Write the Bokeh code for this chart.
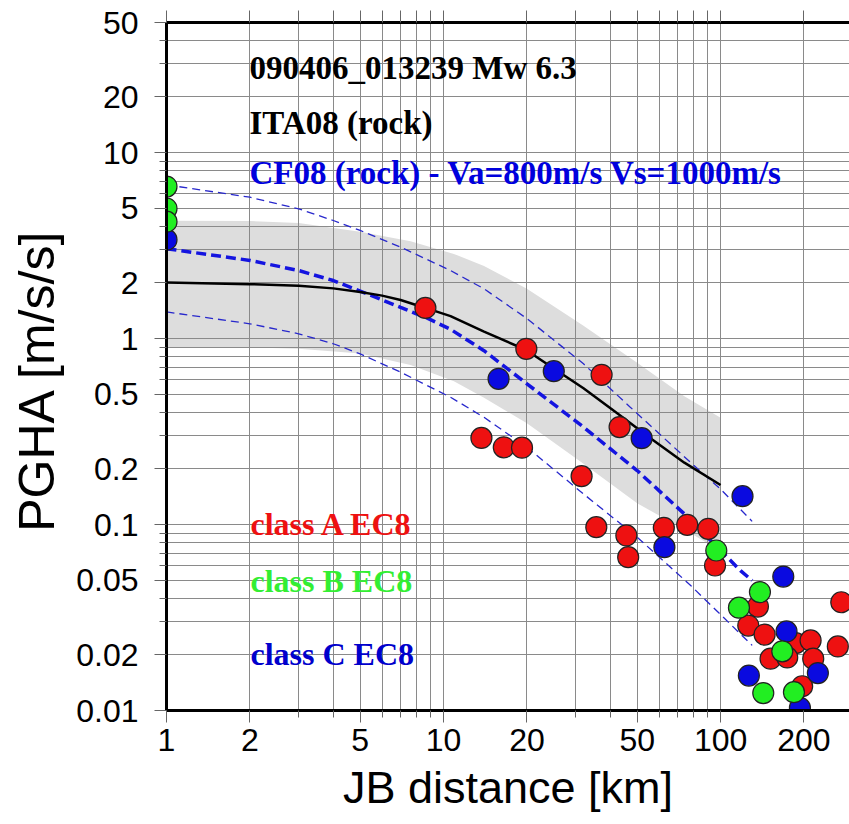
from bokeh.plotting import figure
from bokeh.models import FixedTicker, LogAxis, Label, Range1d
from bokeh.embed import file_html
from bokeh.resources import INLINE

# ---------------- data ----------------
x_major = [1, 2, 5, 10, 20, 50, 100, 200]
x_minor = [3, 4, 6, 7, 8, 9, 30, 40, 60, 70, 80, 90, 300]
y_major = [0.01, 0.02, 0.05, 0.1, 0.2, 0.5, 1, 2, 5, 10, 20, 50]
y_minor = [0.03, 0.04, 0.06, 0.07, 0.08, 0.09, 0.3, 0.4, 0.6, 0.7, 0.8, 0.9,
           3, 4, 6, 7, 8, 9, 30, 40]
x_labels = ["1", "2", "5", "10", "20", "50", "100", "200"]
y_labels = ["0.01", "0.02", "0.05", "0.1", "0.2", "0.5", "1", "2", "5", "10", "20", "50"]

# ITA08 median and +/- sigma band
ita_x = [1, 2, 3, 4, 5, 6, 7, 8.6, 10.6, 14, 19.8, 25, 32, 42, 56, 74, 100]
ita_y = [2.0, 1.96, 1.92, 1.86, 1.78, 1.70, 1.61, 1.46, 1.32, 1.09, 0.87, 0.69,
         0.54, 0.40, 0.29, 0.215, 0.163]
band_x = [1, 2, 3, 5, 7.6, 10.9, 14, 20, 32, 50, 74, 100]
band_hi = [4.3, 4.28, 4.18, 3.75, 3.33, 2.85, 2.45, 1.85, 1.17, 0.74, 0.49, 0.375]
band_lo = [0.9, 0.895, 0.88, 0.83, 0.72, 0.59, 0.48, 0.35, 0.212, 0.13, 0.094, 0.072]

# CF08 median and +/- sigma
cf_x = [1, 2, 3, 4, 5, 7, 8.7, 10.6, 14, 20, 32, 50, 74, 118, 130]
cf_y = [3.04, 2.63, 2.32, 2.05, 1.80, 1.47, 1.29, 1.12, 0.86, 0.571, 0.334,
        0.195, 0.114, 0.0565, 0.050]
cf_hi_x = [1, 2, 3, 4, 5, 7, 10.6, 14, 20, 32, 47, 80, 100, 130]
cf_hi_y = [6.7, 5.75, 4.98, 4.31, 3.81, 3.10, 2.32, 1.85, 1.28, 0.731, 0.43,
           0.208, 0.155, 0.104]
cf_lo_x = [1, 2, 3, 4, 5, 7, 10.6, 14, 20, 32, 50, 78, 130]
cf_lo_y = [1.39, 1.20, 1.06, 0.937, 0.827, 0.659, 0.483, 0.377, 0.26, 0.146,
           0.0855, 0.047, 0.0224]

# observed PGHA by EC8 site class
classA_x = [8.6, 19.9, 37.2, 43.2, 13.7, 16.5, 19.2, 31.5, 35.6, 45.7, 46.4, 62.4,
            75.8, 90.3, 95.5, 136.4, 272.7, 125.9, 144.2, 186.6, 211.3, 265,
            151.5, 174, 216, 197]
classA_y = [1.46, 0.88, 0.638, 0.334, 0.292, 0.26, 0.259, 0.182, 0.0967, 0.0873,
            0.0667, 0.096, 0.0996, 0.0948, 0.0602, 0.0362, 0.0382, 0.0286, 0.0256,
            0.023, 0.0238, 0.0221, 0.019, 0.0193, 0.019, 0.0135]
classC_x = [1, 15.8, 25, 51.9, 120, 62.7, 168.4, 173, 224.5, 126.5, 193.4]
classC_y = [3.4, 0.607, 0.667, 0.291, 0.142, 0.0755, 0.0525, 0.0266, 0.0159,
            0.0154, 0.01033]
classB_x = [1, 1, 1, 96.5, 138.7, 116.5, 167, 142.6, 184]
classB_y = [6.56, 5.0, 4.25, 0.0725, 0.0433, 0.0357, 0.0208, 0.0124, 0.01254]

RED = "#ee1111"
GREEN = "#22ee22"
BLUE = "#0a0ae0"

# ---------------- figure ----------------
p = figure(width=849, height=824, x_axis_type="log", y_axis_type="log",
           x_range=Range1d(1, 292), y_range=Range1d(0.01, 50),
           output_backend="svg", toolbar_location=None,
           min_border_left=166, min_border_right=0, min_border_top=22,
           min_border_bottom=114)
p.outline_line_color = None
p.background_fill_color = "white"
p.border_fill_color = "white"

xt = FixedTicker(ticks=x_major, minor_ticks=x_minor)
yt = FixedTicker(ticks=y_major, minor_ticks=y_minor)

ax = p.xaxis[0]
ax.ticker = xt
ax.major_label_overrides = dict(zip(x_major, x_labels))
ax.axis_label = "JB distance [km]"
ax.axis_label_text_font = "Liberation Sans"
ax.axis_label_text_font_style = "normal"
ax.axis_label_text_font_size = "45px"
ax.axis_label_text_color = "black"
ax.axis_label_standoff = 8
ax.major_label_text_font = "Liberation Sans"
ax.major_label_text_font_size = "32px"
ax.major_label_text_color = "black"
ax.major_label_standoff = 6

ay = p.yaxis[0]
ay.ticker = yt
ay.major_label_overrides = dict(zip(y_major, y_labels))
# trailing no-break spaces push the visible title a little downwards, as in the reference
ay.axis_label = "PGHA [m/s/s]\u00a0\u00a0"
ay.axis_label_text_font = "Liberation Sans"
ay.axis_label_text_font_style = "normal"
ay.axis_label_text_font_size = "50px"
ay.axis_label_text_color = "black"
ay.axis_label_standoff = 8
ay.major_label_text_font = "Liberation Sans"
ay.major_label_text_font_size = "32px"
ay.major_label_text_color = "black"
ay.major_label_standoff = 16
ay.major_label_orientation = "horizontal"

for a in (ax, ay):
    a.axis_line_color = "black"
    a.axis_line_width = 3
    a.major_tick_line_color = "#666666"
    a.minor_tick_line_color = "#666666"
    a.major_tick_out = 12
    a.major_tick_in = 0
    a.minor_tick_out = 7
    a.minor_tick_in = 0

# top axis: only tick marks (no labels) at every grid position
top_ticker = FixedTicker(ticks=[], minor_ticks=sorted(x_major + x_minor))
top = LogAxis(ticker=top_ticker)
top.axis_line_color = "black"
top.axis_line_width = 3
top.minor_tick_line_color = "#666666"
top.minor_tick_out = 12
top.minor_tick_in = 0
top.major_tick_out = 0
top.major_tick_in = 0
top.major_label_standoff = 0
p.add_layout(top, "above")

for g in (p.xgrid[0], p.ygrid[0]):
    g.grid_line_color = "#8a8a8a"
    g.grid_line_width = 1
    g.minor_grid_line_color = "#8a8a8a"
    g.minor_grid_line_width = 1
p.xgrid[0].ticker = xt
p.ygrid[0].ticker = yt

# ITA08 +/- sigma band (under the grid)
p.varea(x=band_x, y1=band_lo, y2=band_hi, fill_color="#dddddd", level="image")

# CF08 curves
p.line(cf_hi_x, cf_hi_y, line_color="#2828cc", line_width=1.3, line_dash="8 5")
p.line(cf_lo_x, cf_lo_y, line_color="#2828cc", line_width=1.3, line_dash="8 5")
p.line(cf_x, cf_y, line_color="#1414e0", line_width=3.5, line_dash="10 5")

# ITA08 median
p.line(ita_x, ita_y, line_color="black", line_width=2.5)

# observations
p.scatter(classA_x, classA_y, size=21, fill_color=RED, line_color="#222222", line_width=1.2)
p.scatter(classC_x, classC_y, size=21, fill_color=BLUE, line_color="#222222", line_width=1.2)
p.scatter(classB_x, classB_y, size=21, fill_color=GREEN, line_color="#222222", line_width=1.2)

# annotations (screen units relative to the frame: x from left, y from bottom)
def add_text(txt, x, y, color, size="33px"):
    p.add_layout(Label(x=x, y=y, x_units="screen", y_units="screen", text=txt,
                       text_font="Liberation Serif", text_font_style="bold",
                       text_font_size=size, text_color=color,
                       text_baseline="alphabetic", text_align="left"))

add_text("090406_013239 Mw 6.3", 83, 643, "black")
add_text("ITA08 (rock)", 83, 588, "black")
add_text("CF08 (rock) - Va=800m/s Vs=1000m/s", 83, 538, "#0000dd")
add_text("class A EC8", 84, 187, "#ee1111", "32px")
add_text("class B EC8", 84, 130, "#33ee33", "32px")
add_text("class C EC8", 84, 57, "#0000cc", "32px")

open("out.html", "w").write(file_html(p, INLINE))
